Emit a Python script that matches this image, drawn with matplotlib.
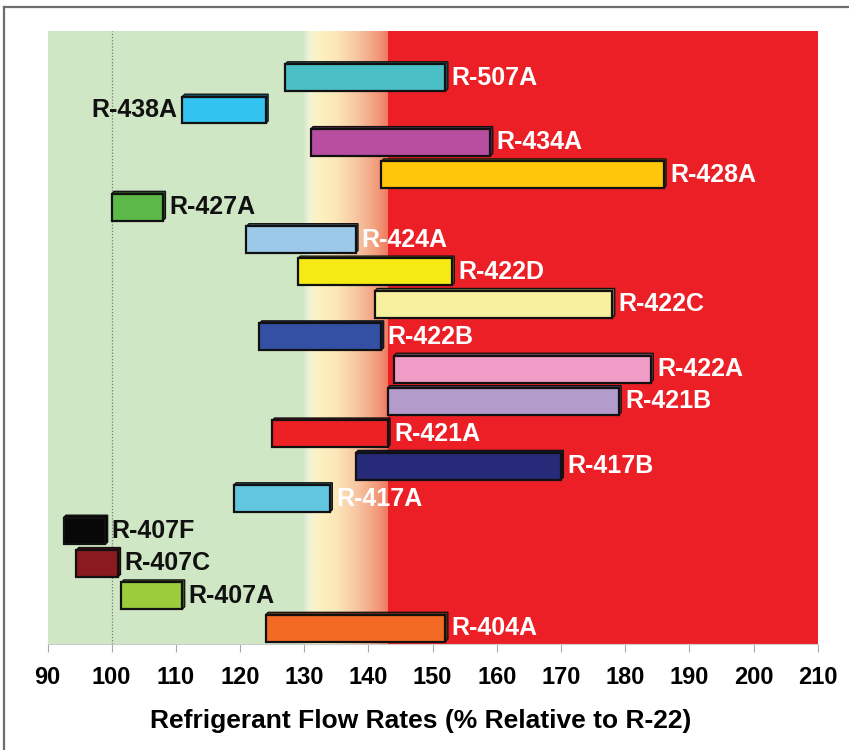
import matplotlib
matplotlib.use("Agg")
import matplotlib.pyplot as plt
import matplotlib.colors as mcolors
from matplotlib.lines import Line2D
from matplotlib.patches import Polygon
import numpy as np

# refrigerants, bottom to top
names = ["R-404A", "R-407A", "R-407C", "R-407F", "R-417A", "R-417B", "R-421A",
         "R-421B", "R-422A", "R-422B", "R-422C", "R-422D", "R-424A", "R-427A",
         "R-428A", "R-434A", "R-438A", "R-507A"]
low = [124, 101.5, 94.5, 92.5, 119, 138, 125, 143, 144, 123, 141, 129, 121,
       100, 142, 131, 111, 127]
high = [152, 111, 101, 99, 134, 170, 143, 179, 184, 142, 178, 153, 138,
        108, 186, 159, 124, 152]
colors = ["#f26a23", "#9ccb3b", "#8b1a1e", "#080808", "#63c6e0", "#262a78",
          "#ed2024", "#b39ccb", "#f19cc6", "#3350a5", "#f8f09e", "#f5ea14",
          "#9cc8ea", "#5cb947", "#ffc60a", "#b84ea0", "#33c3f0", "#4bbfc6"]
left_labels = ["R-438A"]

xticks = list(range(90, 211, 10))

narrow = ["Liberation Sans Narrow", "Liberation Sans", "DejaVu Sans"]
bold = ["Liberation Sans", "DejaVu Sans"]

fig = plt.figure(figsize=(8.49, 7.5), dpi=100)
ax = fig.add_axes([47.5 / 849, 106 / 750, 770.2 / 849, 613 / 750])

ax.set_xlim(90, 210)
ax.set_ylim(-0.49, len(names) - 1 + 1.44)

# background zones
ax.axvspan(90, 130, color="#d0e7c5", zorder=0, lw=0)
ax.axvspan(143, 210, color="#ec1f26", zorder=0, lw=0)
grad = mcolors.LinearSegmentedColormap.from_list(
    "zone", [(0.0, "#d6eacc"), (0.06, "#f1f3d8"), (0.15, "#fdf3c4"),
             (0.4, "#fce5b6"), (0.65, "#f7c3a0"), (0.9, "#f29677"),
             (1.0, "#f07a62")])
ax.imshow(np.linspace(0, 1, 200).reshape(1, -1), cmap=grad, aspect="auto",
          extent=[130, 143, -0.49, len(names) - 1 + 1.44], zorder=0)
ax.axvline(100, color="#777777", lw=0.9, ls=(0, (1, 1.5)), zorder=1)

h = 0.83
dx = 0.38
dy = 0.075
for i, (n, a, b, c) in enumerate(zip(names, low, high, colors)):
    dark = tuple(np.array(mcolors.to_rgb(c)) * 0.45)
    y0, y1 = i - h / 2, i + h / 2
    side = Polygon([(b, y0), (b + dx, y0 + dy), (b + dx, y1 + dy), (a + dx, y1 + dy),
                    (a, y1), (b, y1)], closed=True, fc=dark, ec="#111111",
                   lw=0.9, zorder=2)
    ax.add_patch(side)
    ax.barh(i, b - a, left=a, height=h, color=c, edgecolor="#111111",
            linewidth=1.6, zorder=3)
    if n in left_labels:
        ax.text(a - 0.7, i, n, ha="right", va="center", fontsize=18,
                fontweight="bold", family=bold, color="#111111", zorder=4)
    else:
        tc = "white" if b > 130 else "#111111"
        ax.text(b + dx + 0.6, i, n, ha="left", va="center", fontsize=18,
                fontweight="bold", family=bold, color=tc, zorder=4)

ax.set_yticks([])
ax.set_xticks(xticks)
ax.set_xticklabels([str(t) for t in xticks], fontsize=17, fontweight="bold",
                   family=narrow)
ax.tick_params(axis="x", direction="out", length=6, width=0.8,
               color="#aaaaaa", pad=10)
for s in ["top", "right", "left"]:
    ax.spines[s].set_visible(False)
ax.spines["bottom"].set_color("#cccccc")
ax.spines["bottom"].set_linewidth(0.8)

ax.set_xlabel("Refrigerant Flow Rates (% Relative to R-22)", fontsize=19,
              fontweight="bold", family=narrow)
ax.xaxis.set_label_coords(0.485, -0.106)

# outer frame
fig.add_artist(Line2D([4 / 849, 1.0], [1 - 7 / 750, 1 - 7 / 750],
                      transform=fig.transFigure, color="#6d6d6d", lw=1.6))
fig.add_artist(Line2D([4 / 849, 4 / 849], [0, 1 - 7 / 750],
                      transform=fig.transFigure, color="#6d6d6d", lw=1.6))

fig.savefig("out.png", dpi=100)
